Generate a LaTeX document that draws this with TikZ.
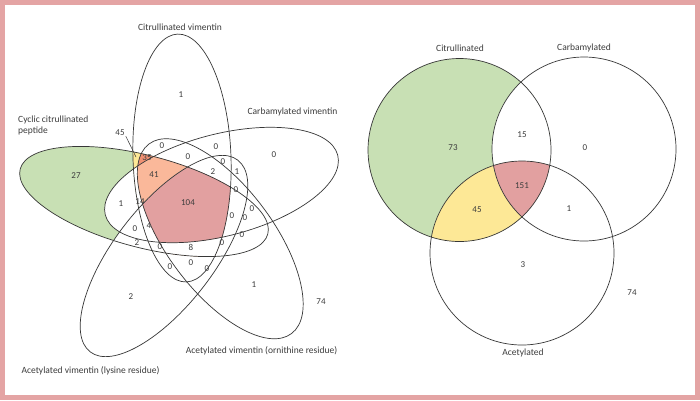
\documentclass[tikz,border=0pt]{standalone}
\usepackage{fontspec}
\setmainfont{Carlito}
\definecolor{bgpink}{RGB}{228,164,164}
\definecolor{cgreen}{RGB}{200,224,180}
\definecolor{cyellow}{RGB}{253,232,150}
\definecolor{cpink}{RGB}{226,160,160}
\definecolor{ccoral}{RGB}{240,145,115}
\definecolor{cpeach}{RGB}{250,184,154}
\definecolor{txt}{RGB}{60,60,60}
\definecolor{lin}{RGB}{55,55,55}
% ellipses of the five-set diagram (image pixel coordinates)
\def\elCitr#1{\path[#1,shift={(182,158)},rotate=92] (0,0) ellipse [x radius=124,y radius=49];}
\def\elCarb#1{\path[#1,shift={(221.5,185)},rotate=14.4] (0,0) ellipse [x radius=120,y radius=51];}
\def\elOrn#1{\path[#1,shift={(220.25,238.75)},rotate=-53.06] (0,0) ellipse [x radius=118.6,y radius=53];}
\def\elLys#1{\path[#1,shift={(164,256)},rotate=52.4] (0,0) ellipse [x radius=121,y radius=50];}
\def\elCCP#1{\path[#1,shift={(144,201.5)},rotate=-14.7] (0,0) ellipse [x radius=128,y radius=46];}
% circles of the three-set diagram
\def\ciCitr#1{\path[#1] (459.5,150) circle [radius=91.5];}
\def\ciCarb#1{\path[#1] (584,149) circle [radius=92];}
\def\ciAcet#1{\path[#1] (522,253) circle [radius=92];}
\begin{document}
\begin{tikzpicture}[x=1pt,y=-1pt,
  lbl/.style={font=\fontsize{9.5}{11}\selectfont, text=txt, inner sep=0pt},
  num/.style={font=\fontsize{9}{10}\selectfont, text=txt, inner sep=0pt},
  outline/.style={draw=lin, line width=0.7pt}]
\useasboundingbox (0,0) rectangle (700,400);
\fill[bgpink] (0,0) rectangle (700,400);
\fill[white] (5,5) rectangle (695,395);

% ---------- left diagram: fills ----------
\begin{scope}
  \elCCP{clip}
  \fill[cgreen] (0,0) rectangle (360,400);
  \elCarb{fill=white}\elLys{fill=white}\elOrn{fill=white}
\end{scope}
\begin{scope}
  \elCCP{clip}\elCitr{clip}
  \fill[cyellow] (0,0) rectangle (360,400);
  \elCarb{fill=white}\elLys{fill=white}\elOrn{fill=white}
\end{scope}
\begin{scope}
  \elCCP{clip}\elCitr{clip}\elOrn{clip}
  \fill[ccoral] (0,0) rectangle (360,400);
  \elCarb{fill=white}\elLys{fill=white}
\end{scope}
\begin{scope}
  \elCCP{clip}\elCitr{clip}\elOrn{clip}\elCarb{clip}
  \fill[cpeach] (0,0) rectangle (360,400);
  \elLys{fill=white}
\end{scope}
\begin{scope}
  \elCCP{clip}\elCitr{clip}\elOrn{clip}\elCarb{clip}\elLys{clip}
  \fill[cpink] (0,0) rectangle (360,400);
\end{scope}
% outlines
\elCitr{outline}\elCarb{outline}\elOrn{outline}\elLys{outline}\elCCP{outline}

% ---------- right diagram: fills ----------
\begin{scope}
  \ciCitr{clip}
  \fill[cgreen] (360,0) rectangle (700,400);
  \ciCarb{fill=white}\ciAcet{fill=white}
\end{scope}
\begin{scope}
  \ciCitr{clip}\ciAcet{clip}
  \fill[cyellow] (360,0) rectangle (700,400);
  \ciCarb{fill=white}
\end{scope}
\begin{scope}
  \ciCitr{clip}\ciAcet{clip}\ciCarb{clip}
  \fill[cpink] (360,0) rectangle (700,400);
\end{scope}
\ciCitr{outline}\ciCarb{outline}\ciAcet{outline}

% ---------- left diagram: texts ----------
\node[lbl] (tCitV) at (180,27) {Citrullinated vimentin};
\node[lbl] (tCarV) at (292.5,112) {Carbamylated vimentin};
\node[lbl,anchor=west,align=left] (tCCP) at (18,125.5) {Cyclic citrullinated\\peptide};
\node[lbl] (tOrn) at (261.5,351) {Acetylated vimentin (ornithine residue)};
\node[lbl] (tLys) at (90.5,371) {Acetylated vimentin (lysine residue)};

\node[num] (n45) at (120,133) {45};
\coordinate (p45) at (136,157);
\draw[lin,line width=0.5pt] (n45.south east) ++(1,0) -- (p45);

\node[num] (a1) at (181,95) {1};
\node[num] (a27) at (76,176) {27};
\node[num] (a0c) at (274,155) {0};
\node[num] (a0a) at (162,146) {0};
\node[num] (a0b) at (216,147) {0};
\node[num] (a0d) at (188,157) {0};
\node[num] (a0e) at (223,162) {0};
\node[num] (a2a) at (213,172) {2};
\node[num] (a1b) at (237,172) {1};
\node[num] (a0f) at (236,190) {0};
\node[num,text=black!75] (a35) at (147,158) {35};
\node[num] (a41) at (154,175) {41};
\node[num] (a104) at (188,203) {104};
\node[num] (a1c) at (121,204) {1};
\node[num] (a14) at (140,202) {14};
\node[num] (a0g) at (135,229) {0};
\node[num] (a4) at (149,226) {4};
\node[num] (a2b) at (137,243) {2};
\node[num] (a0h) at (160,247) {0};
\node[num] (a8) at (191,247) {8};
\node[num] (a0i) at (170,267) {0};
\node[num] (a0j) at (191,263) {0};
\node[num] (a0k) at (207,269) {0};
\node[num] (a0l) at (252,209) {0};
\node[num] (a0m) at (232,216) {0};
\node[num] (a0n) at (245,218) {0};
\node[num] (a0o) at (242,235) {0};
\node[num] (a0p) at (222,243) {0};
\node[num] (a2c) at (131,297) {2};
\node[num] (a1d) at (254,285) {1};
\node[num] (a74) at (321,302) {74};

% ---------- right diagram: texts ----------
\node[lbl] (tCit) at (460,48) {Citrullinated};
\node[lbl] (tCar) at (584,48) {Carbamylated};
\node[lbl] (tAce) at (523,353) {Acetylated};
\node[num] (b73) at (453,148) {73};
\node[num] (b15) at (522,135) {15};
\node[num] (b0) at (585,148) {0};
\node[num] (b151) at (522,186) {151};
\node[num] (b45) at (477,210) {45};
\node[num] (b1) at (569,209) {1};
\node[num] (b3) at (523,265) {3};
\node[num] (b74) at (632,293) {74};
\end{tikzpicture}
\end{document}
